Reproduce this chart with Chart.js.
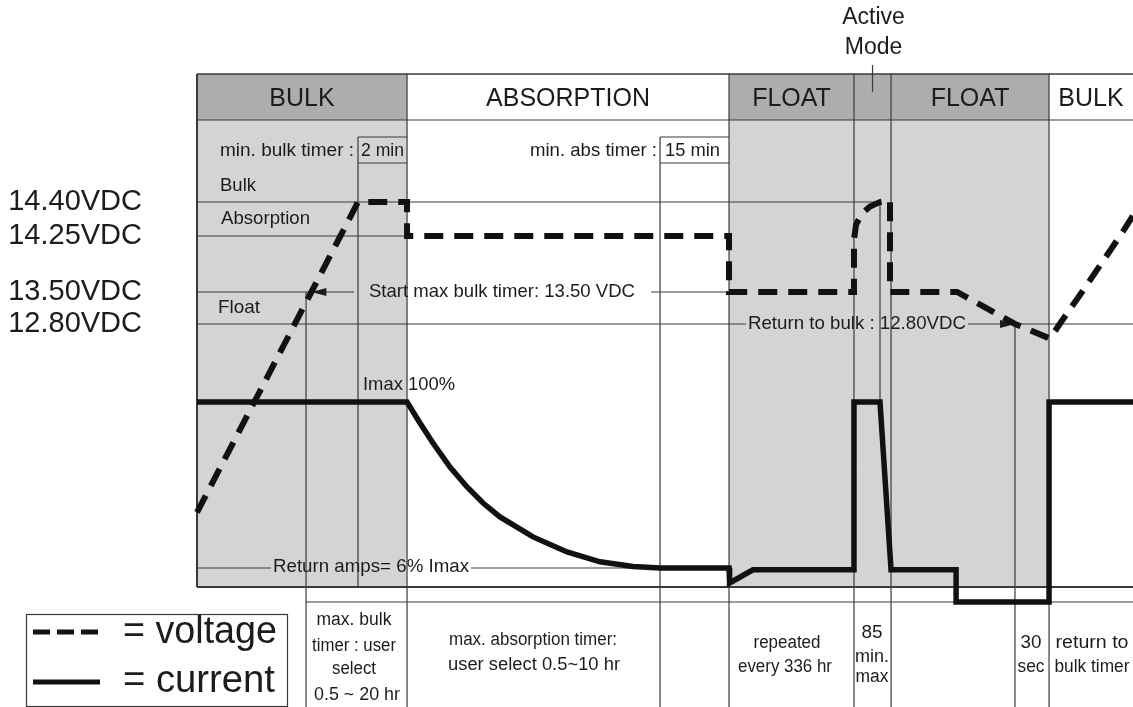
<!DOCTYPE html>
<html lang="en">
  <head>
    <meta charset="UTF-8" />
    <title>Charge stages</title>
    <style>
      html, body { margin: 0; padding: 0; background: #fff; }
    </style>
  </head>
  <body>
    <script src="https://cdn.jsdelivr.net/npm/chart.js"></script>
    <canvas id="stageChart" width="1133" height="707"></canvas>
    <script>
      // time axis is schematic: 0..100 across the plot
      const phaseEdges = [0, 22.44, 56.84, 70.19, 74.15, 91.03, 100];
      const phaseNames = ["BULK", "ABSORPTION", "FLOAT", "", "FLOAT", "BULK"];
      const phaseShaded = [true, false, true, true, true, false];

      // timer markers on the time axis
      const maxBulkStart = 11.65;
      const minBulkStart = 17.2;
      const minAbsStart = 49.47;
      const activeSplit = 72.97;
      const returnBulkAt = 87.39;
      const bulkTimerCross = 12.22;

      const voltLevels = [14.4, 14.25, 13.5, 12.8];
      const voltTime = [0, 10.45, 12.22, 15.32, 17.2, 22.44, 22.44, 56.84, 56.84, 70.19,
        70.19, 70.41, 71.05, 71.9, 72.97, 74.04, 74.04, 81.2, 87.39, 91.13,
        92.17, 94.55, 98.61, 100];
      const voltValue = [11.51, 12.8, 13.5, 14.25, 14.4, 14.4, 14.25, 14.25, 13.5, 13.5,
        14.2, 14.3, 14.35, 14.38, 14.4, 14.41, 13.5, 13.5, 12.8, 12.7,
        12.8, 13.5, 14.25, 14.34];

      // current in % of Imax
      const currTime = [0, 22.44, 23.82, 25.21, 27.03, 28.85, 30.56, 32.37, 35.9, 39.53,
        43.06, 46.58, 49.47, 56.84, 56.9, 59.4, 70.19, 70.19, 72.97, 74.15,
        81.1, 81.1, 91.03, 91.03, 100];
      const currPct = [100, 100, 88.1, 76.8, 63.2, 51.9, 42.8, 34.9, 23.6, 15.1,
        9.5, 6.8, 6, 6, -2.5, 5, 5, 100, 100, 5,
        5, -13.25, -13.25, 100, 100];
      const returnAmpsPct = 6;
      const notesRowPct = -13.25;

      const ink = "#1c1c1c";
      const rule = "#3a3a3a";
      const family = '"Liberation Sans", Arial, sans-serif';

      // voltage axis is not to scale: piecewise between the set points
      const voltStops = [[11.0, 0], [12.8, 0.5632], [13.5, 0.6317], [14.25, 0.7516], [14.4, 0.8244], [14.8, 1]];

      class SteppedScale extends Chart.LinearScale {
        getPixelForValue(value) {
          const s = voltStops;
          let i = 1;
          while (i < s.length - 1 && value > s[i][0]) i++;
          const [v0, f0] = s[i - 1];
          const [v1, f1] = s[i];
          return this.getPixelForDecimal(f0 + ((value - v0) / (v1 - v0)) * (f1 - f0));
        }
        getValueForPixel(pixel) {
          const d = this.getDecimalForPixel(pixel);
          const s = voltStops;
          let i = 1;
          while (i < s.length - 1 && d > s[i][1]) i++;
          const [v0, f0] = s[i - 1];
          const [v1, f1] = s[i];
          return v0 + ((d - f0) / (f1 - f0)) * (v1 - v0);
        }
      }
      SteppedScale.id = "stepped";
      Chart.register(SteppedScale);

      function hline(ctx, x1, x2, y, w = 1.2) {
        ctx.beginPath();
        ctx.lineWidth = w;
        ctx.strokeStyle = rule;
        ctx.moveTo(x1, y);
        ctx.lineTo(x2, y);
        ctx.stroke();
      }
      function vline(ctx, x, y1, y2, w = 1.2) {
        ctx.beginPath();
        ctx.lineWidth = w;
        ctx.strokeStyle = rule;
        ctx.moveTo(x, y1);
        ctx.lineTo(x, y2);
        ctx.stroke();
      }
      function arrowHead(ctx, tipX, y, dir) {
        ctx.beginPath();
        ctx.fillStyle = ink;
        ctx.moveTo(tipX, y);
        ctx.lineTo(tipX - dir * 15, y - 4);
        ctx.lineTo(tipX - dir * 15, y + 4);
        ctx.closePath();
        ctx.fill();
      }
      function txt(ctx, s, x, y, size, align = "left", fitW = null) {
        ctx.font = size + "px " + family;
        const w = ctx.measureText(s).width;
        const sx = fitW ? fitW / w : 1;
        ctx.save();
        ctx.translate(x, y);
        ctx.scale(sx, 1);
        ctx.fillStyle = ink;
        ctx.textAlign = align;
        ctx.textBaseline = "middle";
        ctx.fillText(s, 0, 0);
        ctx.restore();
      }

      const stageDiagram = {
        id: "stageDiagram",
        beforeDatasetsDraw(chart) {
          const { ctx, chartArea: a, scales } = chart;
          const X = (v) => scales.x.getPixelForValue(v);
          const V = (v) => scales.yV.getPixelForValue(v);
          const I = (v) => scales.yI.getPixelForValue(v);
          const headTop = a.top - 46;
          const boxTop = a.top + 17;
          const boxBot = a.top + 43;
          const foot = chart.height;
          ctx.save();

          // shaded columns and their header cells
          phaseNames.forEach((name, i) => {
            if (!phaseShaded[i]) return;
            const l = X(phaseEdges[i]);
            const r = X(phaseEdges[i + 1]);
            ctx.fillStyle = "#adadad";
            ctx.fillRect(l, headTop, r - l, a.top - headTop);
            ctx.fillStyle = "#d4d4d4";
            ctx.fillRect(l, a.top, r - l, a.bottom - a.top);
          });

          hline(ctx, a.left, a.right, headTop, 1.5);
          hline(ctx, a.left, a.right, a.top);
          phaseEdges.slice(1, -1).forEach((e) => vline(ctx, X(e), headTop, foot));
          vline(ctx, a.left, headTop, a.bottom, 2);

          // active mode pointer
          const activeMid = X((phaseEdges[3] + phaseEdges[4]) / 2);
          vline(ctx, activeMid, headTop - 9, headTop + 18);

          // timer boxes
          vline(ctx, X(minBulkStart), boxTop, a.bottom);
          hline(ctx, X(minBulkStart), X(phaseEdges[1]), boxTop);
          hline(ctx, X(minBulkStart), X(phaseEdges[1]), boxBot);
          vline(ctx, X(minAbsStart), boxTop, foot);
          hline(ctx, X(minAbsStart), X(phaseEdges[2]), boxTop);
          hline(ctx, X(minAbsStart), X(phaseEdges[2]), boxBot);
          vline(ctx, X(maxBulkStart), V(13.5), foot);
          vline(ctx, X(activeSplit), V(14.4), I(100));
          vline(ctx, X(returnBulkAt), V(12.8), foot);

          // set point rules
          hline(ctx, a.left, X(activeSplit), V(14.4));
          hline(ctx, a.left, X(phaseEdges[1]), V(14.25));
          hline(ctx, a.left, 354, V(13.5));
          arrowHead(ctx, X(bulkTimerCross), V(13.5), -1);
          hline(ctx, 651, X(phaseEdges[2]), V(13.5));
          hline(ctx, a.left, 746, V(12.8));
          hline(ctx, 968, a.right, V(12.8));
          arrowHead(ctx, X(returnBulkAt), V(12.8), 1);
          hline(ctx, a.left, 271, I(returnAmpsPct));
          hline(ctx, 471, X(minAbsStart), I(returnAmpsPct));

          hline(ctx, a.left, a.right, a.bottom, 2);
          hline(ctx, X(maxBulkStart), a.right, I(notesRowPct));
          ctx.restore();
        },
        afterDatasetsDraw(chart) {
          const { ctx, chartArea: a, scales } = chart;
          const X = (v) => scales.x.getPixelForValue(v);
          const V = (v) => scales.yV.getPixelForValue(v);
          const I = (v) => scales.yI.getPixelForValue(v);
          ctx.save();

          const activeMid = X((phaseEdges[3] + phaseEdges[4]) / 2);
          txt(ctx, "Active", activeMid + 1, 18, 23, "center");
          txt(ctx, "Mode", activeMid + 1, 48, 23, "center");

          phaseNames.forEach((name, i) => {
            if (!name) return;
            txt(ctx, name, (X(phaseEdges[i]) + X(phaseEdges[i + 1])) / 2, 99, 25, "center");
          });

          txt(ctx, "min. bulk timer :", 220, 151, 19, "left", 134);
          txt(ctx, "2 min", 361, 151, 19, "left", 43);
          txt(ctx, "min. abs timer :", 657, 151, 19, "right", 127);
          txt(ctx, "15 min", 665, 151, 19, "left", 55);
          txt(ctx, "Bulk", 220, 186, 19, "left", 36);
          txt(ctx, "Absorption", 221, 219, 19, "left", 89);
          txt(ctx, "Float", 218, 308, 19, "left", 42);
          txt(ctx, "Start max bulk timer: 13.50 VDC", 369, V(13.5), 19, "left", 266);
          txt(ctx, "Return to bulk : 12.80VDC", 748, V(12.8), 19, "left", 218);
          txt(ctx, "Imax 100%", 363, 385, 19, "left", 92);
          txt(ctx, "Return amps= 6% Imax", 273, I(returnAmpsPct) - 1, 19, "left", 196);

          // notes row under the plot
          txt(ctx, "max. bulk", 354, 620, 18, "center", 75);
          txt(ctx, "timer : user", 354, 646, 18, "center", 84);
          txt(ctx, "select", 354, 669, 18, "center", 44);
          txt(ctx, "0.5 ~ 20 hr", 357, 695, 18, "center", 86);
          txt(ctx, "max. absorption timer:", 533, 640, 18, "center", 168);
          txt(ctx, "user select 0.5~10 hr", 534, 665, 18, "center", 172);
          txt(ctx, "repeated", 787, 643, 18, "center", 67);
          txt(ctx, "every 336 hr", 785, 667, 18, "center", 94);
          txt(ctx, "85", 872, 633, 18, "center", 21);
          txt(ctx, "min.", 872, 657, 18, "center", 34);
          txt(ctx, "max", 872, 677, 18, "center", 33);
          txt(ctx, "30", 1031, 643, 18, "center", 21);
          txt(ctx, "sec", 1031, 667, 18, "center", 27);
          txt(ctx, "return to", 1092, 643, 18, "center", 73);
          txt(ctx, "bulk timer", 1092, 667, 18, "center", 75);

          // key
          ctx.lineWidth = 1.2;
          ctx.strokeStyle = rule;
          ctx.strokeRect(26.5, 614.5, 261, 92);
          ctx.beginPath();
          ctx.lineWidth = 5;
          ctx.strokeStyle = "#111";
          ctx.setLineDash([17, 7]);
          ctx.moveTo(33, 632);
          ctx.lineTo(100, 632);
          ctx.stroke();
          ctx.setLineDash([]);
          ctx.beginPath();
          ctx.moveTo(33, 682);
          ctx.lineTo(100, 682);
          ctx.stroke();
          txt(ctx, "= voltage", 123, 633, 38, "left", 154);
          txt(ctx, "= current", 123, 682, 38, "left", 152);
          ctx.restore();
        },
      };

      new Chart("stageChart", {
        type: "line",
        data: {
          datasets: [
            {
              label: "voltage",
              data: voltTime.map((t, i) => ({ x: t, y: voltValue[i] })),
              yAxisID: "yV",
              borderColor: "#111",
              borderWidth: 6,
              borderDash: [19, 11],
              borderCapStyle: "butt",
              borderJoinStyle: "miter",
              pointRadius: 0,
              tension: 0,
              fill: false,
              clip: false,
            },
            {
              label: "current",
              data: currTime.map((t, i) => ({ x: t, y: currPct[i] })),
              yAxisID: "yI",
              borderColor: "#111",
              borderWidth: 5.5,
              borderJoinStyle: "miter",
              pointRadius: 0,
              tension: 0,
              fill: false,
              clip: false,
            },
          ],
        },
        options: {
          responsive: false,
          animation: false,
          layout: { padding: { left: 0, right: 0, top: 120, bottom: 120 } },
          plugins: { legend: { display: false }, tooltip: { enabled: false } },
          scales: {
            x: { type: "linear", min: 0, max: 100, display: false },
            yV: {
              type: "stepped",
              position: "left",
              weight: 1,
              min: 11.0,
              max: 14.8,
              grid: { display: false, drawTicks: false },
              border: { display: false },
              afterBuildTicks: (axis) => {
                axis.ticks = voltLevels.map((v) => ({ value: v }));
              },
              afterFit: (axis) => {
                axis.width = 197;
              },
              ticks: {
                autoSkip: false,
                padding: 55,
                color: ink,
                font: { family: family, size: 29 },
                callback: (v) => Number(v).toFixed(2) + "VDC",
              },
            },
            yI: {
              type: "linear",
              position: "left",
              weight: 0,
              min: -4.76,
              max: 259.7,
              grid: { display: false, drawTicks: false },
              border: { display: false },
              afterBuildTicks: (axis) => {
                axis.ticks = [{ value: 100 }];
              },
              afterFit: (axis) => {
                axis.width = 0;
              },
              ticks: {
                autoSkip: false,
                padding: 55,
                color: ink,
                font: { family: family, size: 30 },
                callback: () => "Imax",
              },
            },
          },
        },
        plugins: [stageDiagram],
      });
    </script>
  </body>
</html>
